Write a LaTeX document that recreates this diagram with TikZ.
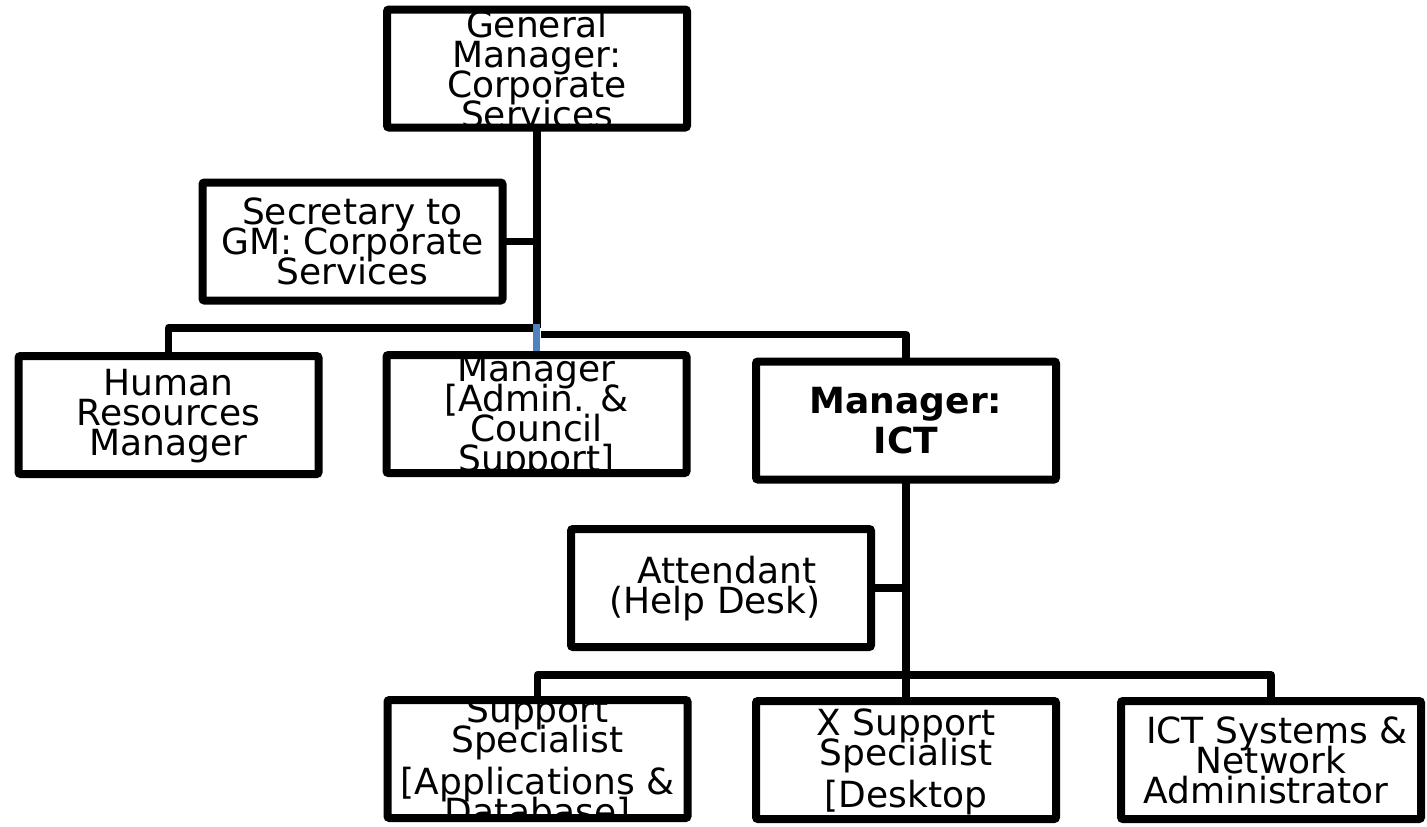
\documentclass[tikz,border=0pt]{standalone}
\usepackage{fontspec}
\setmainfont{DejaVu Sans}
\usetikzlibrary{backgrounds}
\definecolor{accentblue}{HTML}{4F81BD}
\newcommand{\tightlines}{\lineskiplimit=-200pt\relax\lineskip=0pt\relax}
\tikzset{
  box/.style={draw=black, line width=8pt, rounded corners=2pt, minimum width=300pt,
    minimum height=118pt, inner sep=0pt, outer sep=0pt, fill=white},
  conn/.style={draw=black, line width=7.5pt, line join=round},
  bconn/.style={draw=accentblue, line width=6.5pt},
  txt/.style={draw=none, fill=none, rounded corners=0pt, minimum width=0pt,
    minimum height=0pt, inner sep=0pt, outer sep=0pt, align=center, text=black,
    line width=0pt, font=\fontsize{36}{30}\selectfont\tightlines},
  boldtxt/.style={txt, font=\fontsize{36}{40}\selectfont\bfseries\tightlines},
}
\begin{document}
\begin{tikzpicture}[x=1pt, y=-1pt]
\useasboundingbox (0,0) rectangle (1427,827);

\node[box, path picture={\node[txt] (gm-t) at ([yshift=-1pt]path picture bounding box.center)
  {General\\Manager:\\Corporate\\Services};}] (gm) at (537,68.5) {};
\node[box, path picture={\node[txt] (sec-t) at (path picture bounding box.center)
  {Secretary to\\GM: Corporate\\Services};}] (sec) at (352.5,241.5) {};
\node[box, path picture={\node[txt] (hr-t) at ([yshift=-1pt]path picture bounding box.center)
  {Human\\Resources\\Manager};}] (hr) at (168.5,415) {};
\node[box, path picture={\node[txt] (adm-t) at ([yshift=-3pt]path picture bounding box.center)
  {Manager\\{[}Admin. \&\\Council\\Support]};}] (adm) at (536.5,414) {};
\node[box, path picture={\node[boldtxt] (ictm-t) at (path picture bounding box.center)
  {Manager:\\ICT};}] (ictm) at (906,420.5) {};
\node[box, path picture={\node[txt] (att-t) at ([yshift=-1pt]path picture bounding box.center)
  {\hspace*{12pt}Attendant\\(Help Desk)\hspace*{12pt}};}] (att) at (721,588) {};
\node[box, path picture={\node[txt] (ss-t) at ([yshift=-4pt]path picture bounding box.center)
  {Support\\Specialist\\[12pt]{[}Applications \&\\Database]};}] (ss) at (537.5,759) {};
\node[box, path picture={\node[txt] (xs-t) at ([yshift=-2pt]path picture bounding box.center)
  {X Support\\Specialist\\[12pt]{[}Desktop};}] (xs) at (906,760) {};
\node[box, path picture={\node[txt] (icts-t) at (path picture bounding box.center)
  {\hspace*{12pt}ICT Systems \&\\Network\\Administrator\hspace*{10pt}};}] (icts) at (1271,760) {};

\coordinate (b1) at (0,328);
\coordinate (b2) at (0,334.5);
\coordinate (b3) at (0,675);

\begin{pgfonlayer}{background}
  \fill[white] (0,0) rectangle (1427,827);
  \draw[conn] (gm.south) -- (gm.south |- b1);
  \draw[conn] (sec.east) -- (sec.east -| gm.south);
  \draw[conn] (gm.south |- b1) -| (hr.north);
  \draw[conn] ([xshift=3.75pt]gm.south |- b2) -| (ictm.north);
  \draw[bconn] ([yshift=3.75pt]adm.north |- b1) -- (adm.north);
  \draw[conn] (ictm.south) -- (xs.north);
  \draw[conn] (att.east) -- (att.east -| ictm.south);
  \draw[conn] (ss.north) |- (ictm.south |- b3) -| (icts.north);
\end{pgfonlayer}
\end{tikzpicture}
\end{document}
